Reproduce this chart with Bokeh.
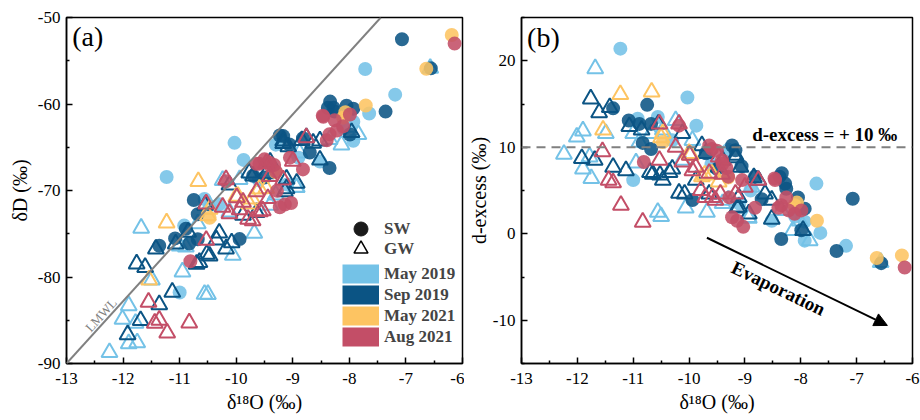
from bokeh.plotting import figure
from bokeh.layouts import row
from bokeh.models import (Legend, LegendItem, Span, Slope, Label, Arrow,
                          NormalHead, FixedTicker)
from bokeh.embed import file_html
from bokeh.resources import INLINE

FONT = "Liberation Serif"

# ---------------- data (δ18O, d-excess) ----------------
may19_sw_o = [-11.23, -10.03, -9.87, -10.92, -10.56, -11.0, -7.72, -7.65, -7.19, -7.93,
              -7.93, -9.3, -8.52, -10.3, -9.6, -8.9, -8.1, -9.1]
may19_sw_d = [21.4, 15.75, 12.5, 13.3, 13.5, 6.2, 5.8, 0.1, -1.4, 1.4,
              -0.8, 9.7, 1.5, 10.8, 8.0, 5.0, 2.0, 3.5]

sep19_sw_o = [-11.36, -10.75, -11.08, -10.89, -10.68, -10.68, -9.94, -9.17, -9.06, -8.82,
              -8.38, -8.35, -8.26, -8.05, -7.07, -7.36, -6.56, -7.93, -7.99, -9.7,
              -10.83, -9.23, -8.28, -8.34, -9.5, -8.7]
sep19_sw_d = [14.5, 14.9, 13.1, 12.7, 12.7, 9.8, 3.9, 9.65, 7.8, 6.6,
              6.6, -0.6, 5.2, 4.2, 4.05, -2.0, -3.4, 2.9, 0.4, 9.3,
              10.5, 10.2, 5.8, 7.0, 7.5, 4.0]

may21_sw_o = [-7.71, -6.64, -6.19, -8.11, -10.47, -8.07, -9.3]
may21_sw_d = [1.5, -2.8, -2.5, 3.3, 10.6, 3.6, 6.5]

aug21_sw_o = [-6.14, -10.81, -10.18, -9.59, -9.41, -9.14, -9.03, -8.47, -8.26, -8.11,
              -7.99, -8.35, -9.3, -9.64, -9.5, -9.4, -9.33, -9.28, -8.82, -8.46,
              -8.4, -8.22, -9.23, -9.05]
aug21_sw_d = [-3.9, 8.3, 12.5, 9.8, 8.5, 1.5, 0.8, 6.4, 4.2, 2.3,
              2.7, 3.3, 6.6, 10.2, 9.6, 8.1, 7.6, 4.2, 3.0, 6.2,
              3.0, 2.7, 1.9, 6.2]

may19_gw_o = [-11.68, -12.24, -12.01, -11.9, -11.9, -11.75, -11.78, -11.49, -11.0, -10.95,
              -10.89, -10.5, -10.24, -9.68, -10.12, -9.94, -8.94, -8.14, -7.84, -6.57,
              -10.47, -9.3, -8.88, -8.35, -10.68, -10.56, -10.06, -9.4, -8.93, -8.02]
may19_gw_d = [19.1, 9.2, 11.2, 11.9, 7.5, 6.4, 8.9, 11.6, 11.6, 8.2,
              10.6, 2.0, 13.1, 2.5, 8.5, 10.8, 1.9, 0.4, -0.8, -3.3,
              12.0, 3.9, 5.4, 2.7, 11.6, 2.5, 3.0, 3.5, 1.8, 1.5]

sep19_gw_o = [-11.76, -11.61, -11.42, -11.92, -11.69, -11.36, -11.13, -11.07, -10.85, -10.65,
              -10.47, -10.55, -10.18, -10.12, -10.3, -9.88, -9.77, -9.47, -9.17, -9.11,
              -8.76, -8.64, -8.52, -8.52, -9.11, -7.96, -10.7, -10.52, -10.35, -10.08,
              -9.7, -9.4, -9.64, -9.17, -9.08, -8.84, -9.14, -8.93]
sep19_gw_d = [15.6, 14.0, 14.6, 8.7, 8.5, 7.7, 7.3, 12.4, 12.0, 6.9,
              6.2, 12.7, 4.7, 11.6, 7.5, 6.2, 10.2, 7.7, 9.1, 3.1,
              6.2, 4.6, 3.9, 1.7, 4.2, 0.4, 7.1, 6.8, 7.1, 4.6,
              9.3, 8.5, 4.6, 8.8, 7.7, 6.5, 3.0, 2.3]

may21_gw_o = [-11.23, -10.67, -11.54, -10.47, -10.0, -9.77, -9.47, -9.59, -9.97, -9.72, -10.5]
may21_gw_d = [16.1, 16.4, 12.0, 11.6, 9.3, 6.6, 6.0, 6.9, 9.1, 6.8, 11.1]

aug21_gw_o = [-11.55, -11.44, -11.36, -11.22, -10.83, -10.53, -10.53, -10.24, -10.18, -10.12,
              -9.88, -9.71, -9.53, -9.47, -9.41, -9.0, -8.76, -9.17, -9.99, -9.94,
              -9.64, -9.58, -9.79, -9.44]
aug21_gw_d = [9.5, 6.2, 5.9, 3.3, 1.35, 12.7, 8.5, 10.0, 12.7, 8.3,
              7.7, 4.2, 3.9, 8.9, 6.9, 5.4, 6.2, 4.6, 9.1, 7.3,
              7.0, 4.2, 5.0, 4.6]

campaigns = ["May 2019", "Sep 2019", "May 2021", "Aug 2021"]
colors = ["#74C2E7", "#0B5484", "#FDC462", "#C34E67"]

sw = [(may19_sw_o, may19_sw_d), (sep19_sw_o, sep19_sw_d),
      (may21_sw_o, may21_sw_d), (aug21_sw_o, aug21_sw_d)]
gw = [(may19_gw_o, may19_gw_d), (sep19_gw_o, sep19_gw_d),
      (may21_gw_o, may21_gw_d), (aug21_gw_o, aug21_gw_d)]

# LMWL: δD = 7.2 δ18O + 3.6 ; d-excess reference = 10
lmwl_slope, lmwl_int = 7.2, 3.6
d_ref = 10

x_ticks = [-13, -12, -11, -10, -9, -8, -7, -6]
x_minor = [-12.5, -11.5, -10.5, -9.5, -8.5, -7.5, -6.5]
ya_ticks = [-90, -80, -70, -60, -50]
ya_minor = [-85, -75, -65, -55]
yb_ticks = [-10, 0, 10, 20]
yb_minor = [-15, -5, 5, 15, 25]

CIRC, TRI = 14, 16


def dD(o, d):
    # d-excess = δD - 8·δ18O
    return [di + 8 * oi for oi, di in zip(o, d)]


def style(p, xticks, xminor, yticks, yminor, xlabel, ylabel, xls, yls, yas):
    p.xgrid.visible = False
    p.ygrid.visible = False
    p.outline_line_color = "black"
    p.outline_line_width = 1.5
    p.outline_line_alpha = 1
    p.background_fill_color = "white"
    p.border_fill_color = "white"
    p.xaxis.ticker = FixedTicker(ticks=xticks, minor_ticks=xminor)
    p.yaxis.ticker = FixedTicker(ticks=yticks, minor_ticks=yminor)
    p.xaxis.major_label_overrides = {t: str(t) for t in xticks}
    p.yaxis.major_label_overrides = {t: str(t) for t in yticks}
    p.xaxis.axis_label = xlabel
    p.yaxis.axis_label = ylabel
    for ax in (p.xaxis[0], p.yaxis[0]):
        ax.axis_line_width = 1.5
        ax.major_tick_line_width = 1.5
        ax.minor_tick_line_width = 1.5
        ax.major_tick_in = 6
        ax.major_tick_out = 0
        ax.minor_tick_in = 3
        ax.minor_tick_out = 0
        ax.major_label_text_font = FONT
        ax.major_label_text_font_size = "17px"
        ax.major_label_text_color = "black"
        ax.axis_label_text_font = FONT
        ax.axis_label_text_font_size = "20px"
        ax.axis_label_text_font_style = "normal"
        ax.axis_label_text_color = "black"
    p.xaxis.major_label_standoff = xls
    p.yaxis.major_label_standoff = yls
    p.xaxis.axis_label_standoff = 4
    p.yaxis.axis_label_standoff = yas


def legend(items, loc, gh):
    return Legend(items=items, location=loc, padding=0, margin=0, spacing=0,
                  glyph_width=37, glyph_height=gh, label_standoff=5,
                  label_height=gh, label_text_font=FONT, label_text_font_style="bold",
                  label_text_font_size="17px", border_line_alpha=0,
                  background_fill_alpha=0)


# ---------------- panel (a) ----------------
pa = figure(width=464, height=420, x_range=(-13, -6), y_range=(-90, -50),
            output_backend="svg", toolbar_location=None,
            min_border_left=66, min_border_right=2, min_border_top=17, min_border_bottom=57)
style(pa, x_ticks, x_minor, ya_ticks, ya_minor, "δ¹⁸O (‰)", "δD (‰)", 9, 6, 4)

pa.add_layout(Slope(gradient=lmwl_slope, y_intercept=lmwl_int,
                    line_color="#808080", line_width=2))

for i in range(4):
    o, d = sw[i]
    pa.scatter(o, dD(o, d), marker="circle", size=CIRC, fill_color=colors[i],
               fill_alpha=0.88, line_color=None)
    o, d = gw[i]
    pa.scatter(o, dD(o, d), marker="triangle", size=TRI, fill_color=None,
               line_color=colors[i], line_width=2)

pa.add_layout(Label(x=-12.39, y=-84.4, text="LMWL", text_font=FONT, text_font_size="13px",
                    text_color="#808080", angle=0.83, text_align="center",
                    text_baseline="middle"))
pa.add_layout(Label(x=-12.9, y=-50.4, text="(a)", text_font=FONT, text_font_size="28px",
                    text_color="black", text_baseline="top", text_align="left"))

# legend (a): hidden proxy renderers (legend keeps drawing them)
o0, d0 = sw[0]
r_sw = pa.scatter(o0, dD(o0, d0), marker="circle", fill_color="#1a1a1a",
                  line_color="#1a1a1a", visible=False)
g0, e0 = gw[0]
r_gw = pa.scatter(g0, dD(g0, e0), marker="triangle", fill_color=None,
                  line_color="black", line_width=1.5, visible=False)
leg_sw = legend([LegendItem(label="SW", renderers=[r_sw])], (276, 117), 35)
leg_gw = legend([LegendItem(label="GW", renderers=[r_gw])], (276, 97), 35)
patch_items = []
for i in range(4):
    o, d = sw[i]
    r = pa.line(o, dD(o, d), line_color=colors[i], line_width=19, line_cap="butt",
                visible=False)
    patch_items.append(LegendItem(label=campaigns[i], renderers=[r]))
leg_c = legend(patch_items, (276, 16), 21)
pa.add_layout(leg_sw)
pa.add_layout(leg_gw)
pa.add_layout(leg_c)

# ---------------- panel (b) ----------------
pb = figure(width=456, height=420, x_range=(-13, -6), y_range=(-15, 25),
            output_backend="svg", toolbar_location=None,
            min_border_left=54, min_border_right=8, min_border_top=17, min_border_bottom=57)
style(pb, x_ticks, x_minor, yb_ticks, yb_minor, "δ¹⁸O (‰)", "d-excess (‰)", 9, 6, 0)

pb.add_layout(Span(location=d_ref, dimension="width", line_color="#808080",
                   line_width=2, line_dash="9 6"))

for i in range(4):
    o, d = sw[i]
    pb.scatter(o, d, marker="circle", size=CIRC, fill_color=colors[i],
               fill_alpha=0.88, line_color=None)
    o, d = gw[i]
    pb.scatter(o, d, marker="triangle", size=TRI, fill_color=None,
               line_color=colors[i], line_width=2)

pb.add_layout(Label(x=-12.9, y=24.5, text="(b)", text_font=FONT, text_font_size="28px",
                    text_color="black", text_baseline="top", text_align="left"))
pb.add_layout(Label(x=-8.87, y=11.5, text="d-excess = + 10 ‰", text_font=FONT,
                    text_font_size="19px", text_font_style="bold", text_color="black",
                    text_baseline="middle", text_align="left"))
pb.add_layout(Arrow(end=NormalHead(size=13, fill_color="black", line_color="black"),
                    x_start=-9.68, y_start=-0.46, x_end=-6.45, y_end=-10.6,
                    line_color="black", line_width=2))
pb.add_layout(Label(x=-8.40, y=-6.3, text="Evaporation", text_font=FONT,
                    text_font_size="19px", text_font_style="bold", text_color="black",
                    angle=-0.45, text_align="center", text_baseline="middle"))

layout = row(pa, pb)
open("out.html", "w").write(file_html(layout, INLINE))
